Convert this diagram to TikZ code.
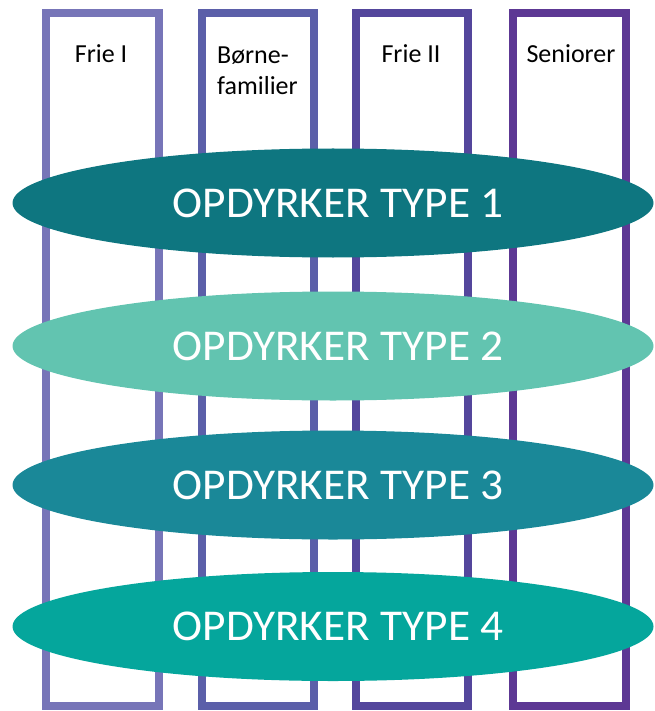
\documentclass[tikz,border=0pt]{standalone}
\usepackage{fontspec}
\setmainfont{Carlito}
\usetikzlibrary{shapes.geometric}
\definecolor{colA}{HTML}{7775B8}
\definecolor{colB}{HTML}{5B5FA9}
\definecolor{colC}{HTML}{54469C}
\definecolor{colD}{HTML}{5D3894}
\definecolor{ellA}{HTML}{0E7680}
\definecolor{ellB}{HTML}{62C4B0}
\definecolor{ellC}{HTML}{1A8898}
\definecolor{ellD}{HTML}{05A69C}
\tikzset{
  colbox/.style={draw, line width=8pt, fill=white, rectangle, inner sep=0pt, outer sep=0pt, minimum height=693pt},
  typeell/.style={ellipse, inner sep=0pt, outer sep=0pt, minimum width=641pt, minimum height=109pt, text=white, font=\fontsize{44}{48}\selectfont},
  collabel/.style={inner sep=0pt, font=\fontsize{26}{30}\selectfont, text=black}
}
\newcommand{\typetext}[1]{\scalebox{1.03}[1]{\hspace*{10pt}#1}}
\begin{document}
\begin{tikzpicture}[x=1pt,y=-1pt]
\useasboundingbox (0,0) rectangle (654,711);
% columns
\node[colbox, draw=colA, minimum width=112.5pt] (c1) at (102.25,359.5) {};
\node[colbox, draw=colB, minimum width=112pt] (c2) at (257.5,359.5) {};
\node[colbox, draw=colC, minimum width=112pt] (c3) at (412,359.5) {};
\node[colbox, draw=colD, minimum width=113pt] (c4) at (569.5,359.5) {};
% labels
\node[collabel, anchor=base] (l1) at (101,62.7) {Frie I};
\node[collabel, anchor=north west, align=left] (l2) at (217,46.5) {Børne-\\[1.5pt]familier};
\node[collabel, anchor=base] (l3) at (411,62.7) {Frie II};
\node[collabel, anchor=base] (l4) at (571,62.7) {Seniorer};
% ellipses
\node[typeell, fill=ellA] (e1) at (333,203) {\typetext{OPDYRKER TYPE 1}};
\node[typeell, fill=ellB] (e2) at (333,346) {\typetext{OPDYRKER TYPE 2}};
\node[typeell, fill=ellC] (e3) at (333,485) {\typetext{OPDYRKER TYPE 3}};
\node[typeell, fill=ellD] (e4) at (333,626.5) {\typetext{OPDYRKER TYPE 4}};
\end{tikzpicture}
\end{document}
